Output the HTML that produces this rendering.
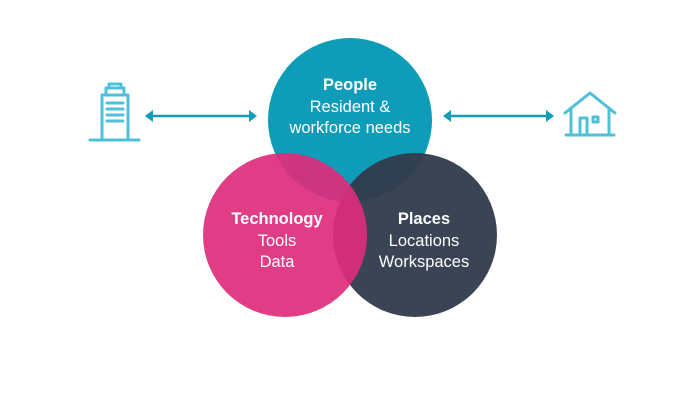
<!DOCTYPE html>
<html><head><style>
body{margin:0;background:#fff;}
svg{display:block}
text{font-family:"Liberation Sans",sans-serif;fill:#fff;text-anchor:middle}
.b{font-weight:bold;font-size:16.5px}
.r{font-size:16.5px}
</style></head><body>
<svg width="698" height="416" viewBox="0 0 698 416">
<circle cx="350" cy="120" r="82" fill="#0f9cb8"/>
<circle cx="415" cy="235" r="82" fill="#333c4d" opacity="0.96"/>
<circle cx="285" cy="235" r="82" fill="#de2c7c" opacity="0.92"/>
<text class="b" x="350" y="90">People</text>
<text class="r" x="350" y="112">Resident &amp;</text>
<text class="r" x="350" y="133">workforce needs</text>
<text class="b" x="277" y="224">Technology</text>
<text class="r" x="277" y="246">Tools</text>
<text class="r" x="277" y="267">Data</text>
<text class="b" x="424" y="224">Places</text>
<text class="r" x="424" y="246">Locations</text>
<text class="r" x="424" y="267">Workspaces</text>
<g stroke="#129cb8" stroke-width="2.5" fill="#129cb8">
<line x1="150" y1="116" x2="252" y2="116"/>
<polygon points="145,116 153,110 153,122" stroke="none"/>
<polygon points="257,116 249,110 249,122" stroke="none"/>
<line x1="448" y1="116" x2="549" y2="116"/>
<polygon points="443,116 451,110 451,122" stroke="none"/>
<polygon points="554,116 546,110 546,122" stroke="none"/>
</g>
<g stroke="#4fc0d8" stroke-width="3" fill="none" stroke-linecap="round" stroke-linejoin="round">
<path d="M90 140H139"/>
<path d="M102 139V95H128V139"/>
<path d="M106 95V88H124V95"/>
<path d="M109 88V84H121V88"/>
<path d="M107 103H123M107 109H123M107 115H123M107 121H123"/>
<path d="M566 135H614"/>
<path d="M565 113L590 93L615 113"/>
<path d="M571 108V135M609 108V135"/>
<path d="M580 135V118H587V135"/>
<rect x="593" y="117" width="5" height="5"/>
</g>
</svg>
</body></html>
